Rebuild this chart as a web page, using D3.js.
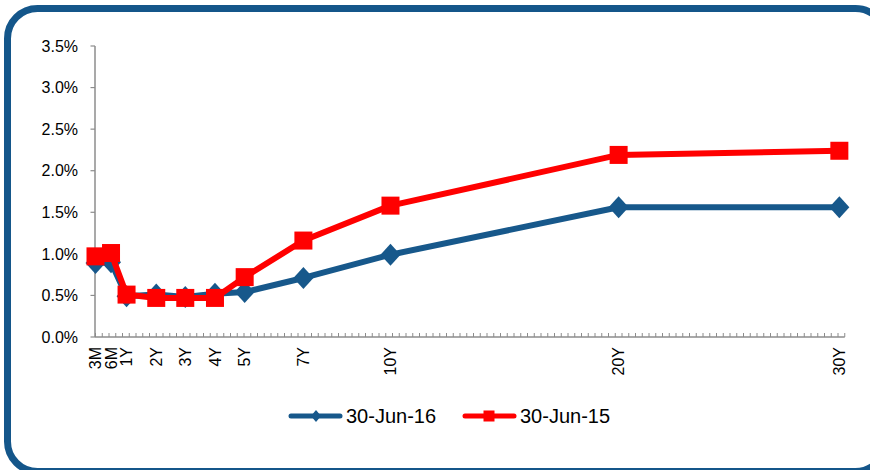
<!DOCTYPE html>
<html><head><meta charset="utf-8">
<script src="https://cdn.jsdelivr.net/npm/d3@7"></script>
<style>
html,body{margin:0;padding:0;background:#fff;}
svg{display:block;font-family:"Liberation Sans",Arial,sans-serif;}
</style></head>
<body>
<svg id="c" width="870" height="470"></svg>
<script>
// Data
const categories = ["3M","6M","1Y","2Y","3Y","4Y","5Y","7Y","10Y","20Y","30Y"];
// position of each category along the (irregular) axis, in axis tick units
const axisPos = [0, 2.3, 4.6, 9.0, 13.3, 17.7, 22.1, 30.8, 43.7, 77.5, 110.2];
const seriesNames = ["30-Jun-16","30-Jun-15"];
const jun16 = [0.89, 0.90, 0.49, 0.51, 0.48, 0.52, 0.54, 0.71, 0.99, 1.56, 1.56];
const jun15 = [0.97, 1.01, 0.51, 0.47, 0.47, 0.47, 0.72, 1.16, 1.58, 2.19, 2.24];
const yTicks = [0, 0.5, 1.0, 1.5, 2.0, 2.5, 3.0, 3.5];
const axisMaxUnit = 111;

const svg = d3.select("#c");
const BLUE = "#17588B", RED = "#FF0000", AXIS = "#8C8C8C";

// frame
svg.append("rect").attr("x",7.5).attr("y",8.5).attr("width",878).attr("height",463)
  .attr("rx",30).attr("ry",30).attr("fill","#fff").attr("stroke","#14568A").attr("stroke-width",7);

const x = d3.scaleLinear().domain([0, axisMaxUnit]).range([95.5, 95.5 + axisMaxUnit*6.75]);
const y = d3.scaleLinear().domain([0, 3.5]).range([337, 46]);

// y axis
const gy = svg.append("g");
gy.append("line").attr("x1",95).attr("x2",95).attr("y1",y(3.5)).attr("y2",y(0)).attr("stroke",AXIS).attr("stroke-width",1.5);
yTicks.forEach(t=>{
  gy.append("line").attr("x1",90.5).attr("x2",95).attr("y1",y(t)).attr("y2",y(t)).attr("stroke",AXIS).attr("stroke-width",1.2);
  gy.append("text").attr("x",78).attr("y",y(t)).attr("dy","0.36em").attr("text-anchor","end")
    .attr("font-size",16).attr("fill","#000").text(t.toFixed(1)+"%");
});

// x axis
const gx = svg.append("g");
gx.append("line").attr("x1",95).attr("x2",x(axisMaxUnit)).attr("y1",337).attr("y2",337).attr("stroke",AXIS).attr("stroke-width",1.5);
d3.range(0, axisMaxUnit+1).forEach(u=>{
  gx.append("line").attr("x1",x(u)).attr("x2",x(u)).attr("y1",333).attr("y2",337).attr("stroke",AXIS).attr("stroke-width",1);
});
categories.forEach((c,i)=>{
  gx.append("text").attr("transform",`translate(${x(axisPos[i])},347) rotate(-90)`)
    .attr("dy","0.36em").attr("text-anchor","end").attr("font-size",16).attr("fill","#000").text(c);
});

const line = d3.line().x((d,i)=>x(axisPos[i])).y(d=>y(d));
function diamond(cx,cy,w,h){return `M${cx},${cy-h}L${cx+w},${cy}L${cx},${cy+h}L${cx-w},${cy}Z`;}

// blue series
svg.append("path").datum(jun16).attr("d",line).attr("fill","none").attr("stroke",BLUE).attr("stroke-width",6).attr("stroke-linejoin","round");
svg.append("g").selectAll("path").data(jun16).join("path")
  .attr("d",(d,i)=>diamond(x(axisPos[i]),y(d),10,11)).attr("fill",BLUE);

// red series
svg.append("path").datum(jun15).attr("d",line).attr("fill","none").attr("stroke",RED).attr("stroke-width",6).attr("stroke-linejoin","round");
svg.append("g").selectAll("rect").data(jun15).join("rect")
  .attr("x",(d,i)=>x(axisPos[i])-9).attr("y",d=>y(d)-9).attr("width",18).attr("height",18).attr("fill",RED);

// legend
const lg = svg.append("g");
lg.append("line").attr("x1",291).attr("x2",340).attr("y1",416).attr("y2",416).attr("stroke",BLUE).attr("stroke-width",5).attr("stroke-linecap","round");
lg.append("path").attr("d",diamond(316,416,5,6)).attr("fill",BLUE);
lg.append("text").attr("x",346).attr("y",416).attr("dy","0.36em").attr("font-size",20).attr("fill","#000").text(seriesNames[0]);
lg.append("line").attr("x1",465).attr("x2",514).attr("y1",416).attr("y2",416).attr("stroke",RED).attr("stroke-width",5).attr("stroke-linecap","round");
lg.append("rect").attr("x",483.5).attr("y",410.5).attr("width",11).attr("height",11).attr("fill",RED);
lg.append("text").attr("x",520).attr("y",416).attr("dy","0.36em").attr("font-size",20).attr("fill","#000").text(seriesNames[1]);
</script>
</body></html>
